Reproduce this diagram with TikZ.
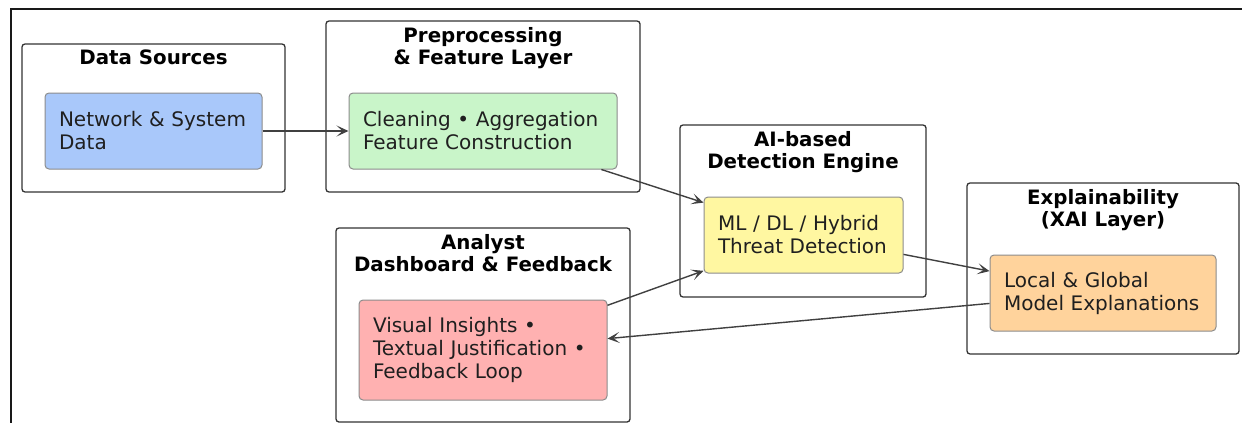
\documentclass[tikz,border=0pt]{standalone}
\usepackage{fontspec}
\setmainfont{DejaVu Sans}
\usetikzlibrary{arrows.meta}

\definecolor{srcfill}{HTML}{A9C8FA}
\definecolor{prefill}{HTML}{C9F5C9}
\definecolor{detfill}{HTML}{FFF7A1}
\definecolor{xaifill}{HTML}{FFD39C}
\definecolor{anafill}{HTML}{FFB1B1}

\begin{document}
\begin{tikzpicture}[
    x=1pt, y=-1pt,
    every node/.style={font=\fontsize{20}{23}\selectfont, text=black!88},
    grp/.style={rectangle, draw=black!80, line width=1.3pt, rounded corners=3pt, inner sep=0pt},
    ttl/.style={font=\fontsize{19.8}{22.5}\selectfont\bfseries, text=black, align=center,
                anchor=north, inner sep=0pt},
    bx/.style={rectangle, draw=black!45, line width=1pt, rounded corners=4pt, align=left,
               inner xsep=14pt, inner ysep=0pt, minimum height=76pt},
    e/.style={draw=black!75, line width=1.4pt, -{Stealth[length=12pt, width=11pt, inset=6pt]}},
  ]
  \useasboundingbox (0,0) rectangle (1242,423);
  \draw[line width=2pt, black!90] (1242,9.3) -- (10.7,9.3) -- (10.7,423);

  \node[grp, minimum width=263pt, minimum height=148pt] (gsrc) at (153.5,118) {};
  \node[grp, minimum width=314pt, minimum height=171pt] (gpre) at (483,106.5) {};
  \node[grp, minimum width=246pt, minimum height=172pt] (gdet) at (803,211) {};
  \node[grp, minimum width=272pt, minimum height=171pt] (gxai) at (1103,268.5) {};
  \node[grp, minimum width=294pt, minimum height=194pt] (gana) at (483,325) {};

  \node[ttl] (tsrc) at ([yshift=-6.5pt]gsrc.north) {Data Sources};
  \node[ttl] (tpre) at ([yshift=-6.5pt]gpre.north) {Preprocessing\\\& Feature Layer};
  \node[ttl] (tdet) at ([yshift=-6.5pt]gdet.north) {AI-based\\Detection Engine};
  \node[ttl] (txai) at ([yshift=-6.5pt]gxai.north) {Explainability\\(XAI Layer)};
  \node[ttl] (tana) at ([yshift=-6.5pt]gana.north) {Analyst\\Dashboard \& Feedback};

  \node[bx, fill=srcfill, text width=189pt] (src) at (153.5,131) {Network \& System\\Data};
  \node[bx, fill=prefill, text width=240pt] (pre) at (483,131) {Cleaning • Aggregation\\Feature Construction};
  \node[bx, fill=detfill, text width=171pt] (det) at (803.5,235) {ML / DL / Hybrid\\Threat Detection};
  \node[bx, fill=xaifill, text width=198pt] (xai) at (1103,293) {Local \& Global\\Model Explanations};
  \node[bx, fill=anafill, text width=220pt, minimum height=100pt] (ana) at (483,350)
    {Visual Insights •\\Textual Justification •\\Feedback Loop};

  \draw[e] (src) -- (pre);
  \draw[e] (pre) -- (det);
  \draw[e] (ana) -- (det);
  \draw[e] (det) -- (xai);
  \draw[e] (xai) -- (ana);
\end{tikzpicture}
\end{document}
